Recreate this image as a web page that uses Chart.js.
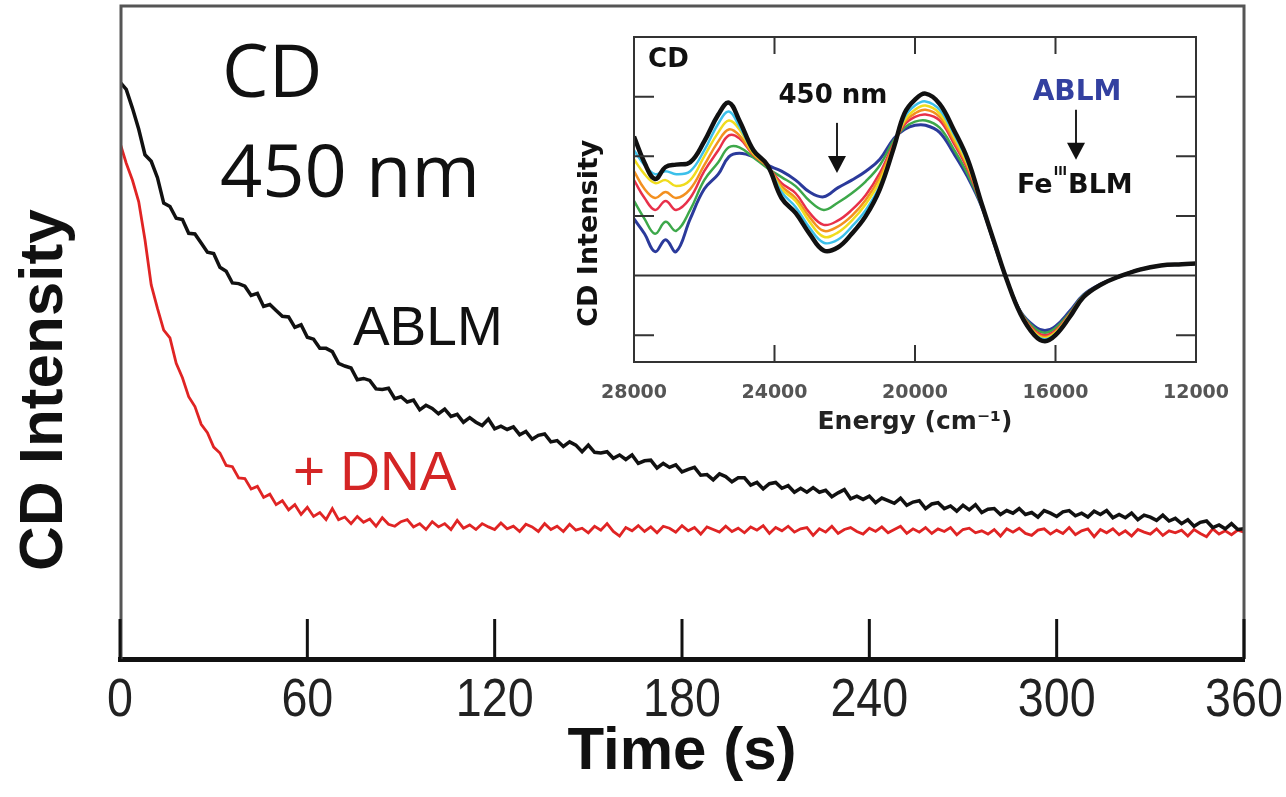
<!DOCTYPE html>
<html>
<head>
<meta charset="utf-8">
<script src="https://cdn.jsdelivr.net/npm/chart.js@4.4.0/dist/chart.umd.min.js"></script>
<style>
  html, body { margin: 0; padding: 0; background: #fff; }
  #wrap { position: relative; width: 1286px; height: 797px; }
  #mainChart { position: absolute; left: 0; top: 0; }
  #insetChart { position: absolute; left: 560px; top: 0; }
</style>
</head>
<body>
<div id="wrap">
  <canvas id="mainChart" width="1286" height="797"></canvas>
  <canvas id="insetChart" width="700" height="450"></canvas>
</div>
<script>
// ---- main kinetics trace, CD at 450 nm (arbitrary units), one reading every 2 s ----
const timeSec = [
  0,2,4,6,8,10,12,14,16,18, 20,22,24,26,28,30,32,34,36,38, 40,42,44,46,48,50,52,54,56,58,
  60,62,64,66,68,70,72,74,76,78, 80,82,84,86,88,90,92,94,96,98, 100,102,104,106,108,110,112,114,116,118,
  120,122,124,126,128,130,132,134,136,138, 140,142,144,146,148,150,152,154,156,158,
  160,162,164,166,168,170,172,174,176,178, 180,182,184,186,188,190,192,194,196,198,
  200,202,204,206,208,210,212,214,216,218, 220,222,224,226,228,230,232,234,236,238,
  240,242,244,246,248,250,252,254,256,258, 260,262,264,266,268,270,272,274,276,278,
  280,282,284,286,288,290,292,294,296,298, 300,302,304,306,308,310,312,314,316,318,
  320,322,324,326,328,330,332,334,336,338, 340,342,344,346,348,350,352,354,356,358, 360];
const ablmCD = [
  88.2,87.1,84.2,81.0,77.1,76.1,73.6,69.7,69.2,67.4, 67.2,65.1,65.0,63.6,62.2,62.0,59.9,59.3,57.5,57.4,
  57.0,55.6,55.9,53.9,54.2,53.3,52.4,52.3,50.7,51.1, 49.2,48.9,47.5,47.5,47.0,45.2,44.8,44.5,42.7,42.9,
  42.6,41.3,41.2,41.4,39.8,40.1,39.3,39.6,38.1,38.8, 38.3,37.5,38.2,37.1,37.4,36.2,36.9,36.2,35.7,36.7,
  35.2,35.6,35.1,35.5,34.3,34.8,33.6,34.2,34.4,33.2, 33.4,32.5,33.2,32.7,31.7,32.7,31.6,31.5,31.7,30.7,
  31.2,30.5,31.2,29.9,30.3,30.4,29.2,29.9,29.3,29.7, 28.6,29.0,29.3,28.1,28.2,27.4,28.3,27.9,27.1,27.7,
  27.7,26.6,27.0,26.0,26.8,27.0,26.1,26.5,25.5,26.1, 25.5,26.2,25.5,25.8,24.8,25.4,25.9,24.5,24.9,24.4,
  24.9,23.9,24.6,24.2,23.8,24.6,23.5,24.0,24.2,23.0, 23.7,23.9,23.0,23.4,22.6,23.5,22.8,23.6,22.4,22.9,
  23.0,22.1,22.7,22.3,23.0,22.1,22.4,21.7,22.7,22.3, 21.8,22.5,22.7,21.9,22.3,21.7,22.6,22.1,22.7,21.6,
  22.1,21.6,22.3,21.3,22.0,21.7,21.2,22.0,21.1,21.5, 20.7,21.3,20.3,20.9,21.1,20.1,20.5,19.9,20.7,19.8, 19.9];
const dnaCD = [
  78.9,75.8,73.2,69.9,64.1,57.2,53.6,50.3,49.1,45.2, 43.0,40.1,38.6,35.9,34.6,32.4,31.5,29.6,29.4,27.7,
  27.6,26.0,26.4,24.7,25.2,23.6,24.2,22.8,23.6,22.1, 23.2,21.8,22.4,21.3,23.0,21.3,21.7,20.7,21.8,20.9,
  21.4,20.3,21.6,20.6,20.3,21.0,21.3,20.2,20.7,19.8, 21.0,20.2,20.7,19.8,21.2,20.0,20.5,19.8,20.7,20.2,
  19.8,20.8,19.9,20.3,19.5,20.6,20.2,19.5,20.7,19.8, 20.3,19.5,20.6,19.7,20.0,19.3,20.3,19.7,20.7,19.5,
  18.8,20.1,19.6,20.4,19.5,20.2,19.3,20.3,20.0,19.4, 20.4,19.6,20.1,19.1,20.2,19.8,19.4,20.3,19.5,20.0,
  19.3,20.2,19.7,20.4,19.2,20.1,19.6,20.3,19.4,19.9, 20.1,18.9,19.9,19.4,20.3,19.2,19.8,20.1,19.5,19.1,
  20.0,19.5,20.2,19.3,19.8,20.3,19.2,19.9,19.4,20.1, 19.2,19.9,19.5,20.1,19.0,19.8,20.0,19.3,19.6,19.1,
  19.8,18.8,19.9,19.4,20.0,19.2,18.9,19.7,19.9,19.1, 19.7,19.2,20.1,19.0,19.6,19.9,18.7,19.8,19.3,19.9,
  19.0,19.6,18.8,19.8,19.4,19.1,19.9,18.9,19.6,19.3, 19.7,18.8,19.8,19.2,18.7,19.9,19.1,19.6,19.0,19.7, 19.4];

// ---- inset spectra, ABLM -> Fe(III)BLM ----
const energyCm = [28000,27700,27400,27100,26800,26400,26000,25600,25300,25000,24600,24200,23800,23400,23000,22600,
  22200,21800,21400,21000,20600,20300,20000,19700,19300,18900,18500,18100,17700,17400,17000,16600,16300,16000,
  15600,15200,14700,14200,13600,13000,12400,12000];
const specFeBLM = [2.33,1.89,1.62,1.82,1.86,1.9,2.25,2.7,2.9,2.6,2.1,1.85,1.3,1.05,0.7,0.42,0.47,0.7,1.0,1.45,2.15,2.72,
  2.95,3.05,2.88,2.45,1.95,1.2,0.48,-0.05,-0.64,-1.0,-1.1,-1.0,-0.7,-0.36,-0.15,-0.02,0.1,0.17,0.19,0.2];
const specCyan = [2.1,1.85,1.7,1.75,1.7,1.75,2.1,2.55,2.75,2.5,2.08,1.85,1.4,1.15,0.8,0.55,0.6,0.82,1.1,1.5,2.15,2.65,
  2.85,2.92,2.78,2.38,1.9,1.2,0.47,-0.05,-0.63,-0.98,-1.07,-0.98,-0.68,-0.35,-0.15,-0.02,0.1,0.17,0.19,0.2];
const specYellow = [1.95,1.7,1.55,1.6,1.5,1.6,2.0,2.4,2.6,2.45,2.05,1.84,1.45,1.25,0.9,0.65,0.72,0.92,1.2,1.58,2.17,2.6,
  2.78,2.85,2.72,2.33,1.86,1.19,0.47,-0.05,-0.62,-0.96,-1.05,-0.96,-0.67,-0.35,-0.15,-0.02,0.1,0.17,0.19,0.2];
const specOrange = [1.75,1.45,1.3,1.4,1.3,1.45,1.85,2.25,2.45,2.35,2.03,1.83,1.5,1.3,0.98,0.75,0.82,1.0,1.27,1.65,2.2,2.57,
  2.72,2.78,2.66,2.27,1.82,1.18,0.46,-0.05,-0.62,-0.94,-1.03,-0.94,-0.66,-0.34,-0.15,-0.02,0.1,0.17,0.19,0.2];
const specRed = [1.6,1.3,1.1,1.25,1.1,1.3,1.75,2.1,2.35,2.3,2.02,1.83,1.55,1.38,1.05,0.85,0.92,1.1,1.35,1.72,2.22,2.53,
  2.66,2.7,2.6,2.22,1.78,1.17,0.46,-0.05,-0.61,-0.92,-1.0,-0.92,-0.65,-0.34,-0.15,-0.02,0.1,0.17,0.19,0.2];
const specGreen = [1.25,0.95,0.7,0.9,0.75,1.1,1.6,1.9,2.15,2.15,1.98,1.8,1.65,1.5,1.25,1.1,1.22,1.38,1.58,1.85,2.27,2.48,
  2.58,2.6,2.48,2.12,1.7,1.16,0.45,-0.05,-0.6,-0.88,-0.96,-0.88,-0.63,-0.33,-0.15,-0.02,0.1,0.17,0.19,0.2];
const specABLM = [0.95,0.7,0.4,0.6,0.4,0.95,1.45,1.7,1.99,2.05,1.99,1.85,1.75,1.6,1.4,1.32,1.47,1.6,1.75,1.95,2.3,2.45,
  2.52,2.52,2.4,2.05,1.65,1.15,0.45,-0.05,-0.6,-0.85,-0.92,-0.85,-0.6,-0.32,-0.14,-0.02,0.1,0.17,0.19,0.2];

function pts(xs, ys) {
  return xs.map((x, i) => ({ x: x, y: ys[i] }));
}

// text placed in data coordinates
const mainNotes = [
  { text: "CD", x: 32.7, y: 85.9, font: '74px "Open Sans"', color: "#111" },
  { text: "450 nm", x: 32.0, y: 70.6, font: '74px "Open Sans"', color: "#111" },
  { text: "ABLM", x: 74.6, y: 48.0, font: '55px "Liberation Sans"', color: "#111" },
  { text: "+ DNA", x: 55.4, y: 25.8, font: '55px "Liberation Sans"', color: "#d42525" },
];

const mainDecor = {
  id: "mainDecor",
  afterDraw(chart) {
    const { ctx, chartArea: a } = chart;
    const x = chart.scales.x, y = chart.scales.y;
    ctx.save();
    // left / top / right frame
    ctx.strokeStyle = "#555";
    ctx.lineWidth = 3;
    ctx.beginPath();
    ctx.moveTo(a.left + 1, a.bottom);
    ctx.lineTo(a.left + 1, a.top + 1);
    ctx.lineTo(a.right, a.top + 1);
    ctx.lineTo(a.right, a.bottom);
    ctx.stroke();
    // ticks pointing up into the plot, and narrow tick labels below
    ctx.strokeStyle = "#111";
    ctx.lineWidth = 3;
    ctx.fillStyle = "#222";
    ctx.font = '53px "Liberation Sans"';
    ctx.textAlign = "center";
    ctx.textBaseline = "middle";
    x.ticks.forEach((tk) => {
      const px = x.getPixelForValue(tk.value);
      ctx.beginPath();
      ctx.moveTo(px, a.bottom);
      ctx.lineTo(px, a.bottom - 40);
      ctx.stroke();
      ctx.save();
      ctx.translate(px, a.bottom + 42);
      ctx.scale(0.88, 1);
      ctx.fillText(String(tk.value), 0, 0);
      ctx.restore();
    });
    // notes
    ctx.textAlign = "left";
    ctx.textBaseline = "alphabetic";
    mainNotes.forEach((n) => {
      ctx.font = n.font;
      ctx.fillStyle = n.color;
      ctx.fillText(n.text, x.getPixelForValue(n.x), y.getPixelForValue(n.y));
    });
    // y axis label
    ctx.translate(a.left - 75, y.getPixelForValue(41.1));
    ctx.rotate(-Math.PI / 2);
    ctx.font = 'bold 62px "Liberation Sans"';
    ctx.fillStyle = "#111";
    ctx.textAlign = "center";
    ctx.textBaseline = "middle";
    ctx.fillText("CD Intensity", 0, 0);
    ctx.restore();
  },
};

new Chart(document.getElementById("mainChart").getContext("2d"), {
  type: "line",
  data: {
    datasets: [
      { label: "ABLM", data: pts(timeSec, ablmCD), borderColor: "#111", borderWidth: 3.5 },
      { label: "+ DNA", data: pts(timeSec, dnaCD), borderColor: "#e02424", borderWidth: 2.8 },
    ],
  },
  options: {
    responsive: false,
    devicePixelRatio: 1,
    animation: false,
    layout: { padding: { top: 5, right: 42, left: 0, bottom: 0 } },
    elements: { point: { radius: 0 }, line: { tension: 0 } },
    plugins: { legend: { display: false }, tooltip: { enabled: false } },
    scales: {
      x: {
        type: "linear",
        min: 0,
        max: 360,
        afterFit: (s) => { s.height = 138; },
        border: { display: true, color: "#111", width: 5 },
        grid: { display: false, drawTicks: false },
        ticks: { display: false, stepSize: 60 },
        title: {
          display: true,
          text: "Time (s)",
          color: "#111",
          font: { family: '"Liberation Sans", Arial', size: 60, weight: "bold" },
          padding: { top: 9, bottom: 9 },
        },
      },
      y: {
        min: 0,
        max: 100,
        afterFit: (s) => { s.width = 120; },
        border: { display: false },
        grid: { display: false, drawTicks: false },
        ticks: { display: false },
      },
    },
  },
  plugins: [mainDecor],
});

// ---- inset ----
const insetNotes = [
  { text: "CD", x: 27600, y: 3.5, align: "left", color: "#111", size: 26 },
  { text: "450 nm", x: 22335, y: 2.9, align: "center", color: "#111", size: 26 },
  { text: "ABLM", x: 15388, y: 2.95, align: "center", color: "#3340a0", size: 28 },
];
const insetArrows = [
  { x: 22221, from: 2.56, to: 1.72 },
  { x: 15416, from: 2.78, to: 1.94 },
];

const insetDecor = {
  id: "insetDecor",
  beforeDatasetsDraw(chart) {
    const { ctx, chartArea: a } = chart;
    const y0 = chart.scales.y.getPixelForValue(0);
    ctx.save();
    ctx.strokeStyle = "#333";
    ctx.lineWidth = 2;
    ctx.beginPath();
    ctx.moveTo(a.left, y0);
    ctx.lineTo(a.right, y0);
    ctx.stroke();
    ctx.restore();
  },
  afterDraw(chart) {
    const { ctx, chartArea: a } = chart;
    const x = chart.scales.x, y = chart.scales.y;
    ctx.save();
    ctx.strokeStyle = "#333";
    ctx.lineWidth = 2;
    ctx.strokeRect(a.left, a.top, a.right - a.left, a.bottom - a.top);
    x.ticks.forEach((tk) => {
      const px = x.getPixelForValue(tk.value);
      ctx.beginPath();
      ctx.moveTo(px, a.bottom);
      ctx.lineTo(px, a.bottom - 17);
      ctx.moveTo(px, a.top);
      ctx.lineTo(px, a.top + 17);
      ctx.stroke();
    });
    y.ticks
      .filter((tk) => Number.isInteger(tk.value) && tk.value !== 0 && tk.value < y.max)
      .forEach((tk) => {
        const py = y.getPixelForValue(tk.value);
        ctx.beginPath();
        ctx.moveTo(a.left, py);
        ctx.lineTo(a.left + 20, py);
        ctx.moveTo(a.right, py);
        ctx.lineTo(a.right - 20, py);
        ctx.stroke();
      });

    // arrows
    ctx.fillStyle = "#111";
    ctx.strokeStyle = "#222";
    insetArrows.forEach((ar) => {
      const px = x.getPixelForValue(ar.x);
      const p1 = y.getPixelForValue(ar.from);
      const p2 = y.getPixelForValue(ar.to);
      ctx.lineWidth = 2;
      ctx.beginPath();
      ctx.moveTo(px, p1);
      ctx.lineTo(px, p2 - 14);
      ctx.stroke();
      ctx.beginPath();
      ctx.moveTo(px - 9, p2 - 17);
      ctx.lineTo(px + 9, p2 - 17);
      ctx.lineTo(px, p2);
      ctx.closePath();
      ctx.fill();
    });

    ctx.textBaseline = "alphabetic";
    insetNotes.forEach((n) => {
      ctx.font = "bold " + n.size + 'px "DejaVu Sans"';
      ctx.textAlign = n.align;
      ctx.fillStyle = n.color;
      ctx.fillText(n.text, x.getPixelForValue(n.x), y.getPixelForValue(n.y));
    });

    // Fe(III)BLM with superscript
    ctx.textAlign = "left";
    ctx.fillStyle = "#111";
    let fx = x.getPixelForValue(17096);
    const fy = y.getPixelForValue(1.39);
    ctx.font = 'bold 27px "DejaVu Sans"';
    ctx.fillText("Fe", fx, fy);
    fx += ctx.measureText("Fe").width + 1;
    ctx.font = 'bold 12px "DejaVu Sans"';
    ctx.fillText("III", fx, fy - 18);
    fx += ctx.measureText("III").width + 1;
    ctx.font = 'bold 27px "DejaVu Sans"';
    ctx.fillText("BLM", fx, fy);

    // y label
    ctx.translate(a.left - 44, y.getPixelForValue(0.71));
    ctx.rotate(-Math.PI / 2);
    ctx.font = 'bold 27px "DejaVu Sans"';
    ctx.textAlign = "center";
    ctx.textBaseline = "middle";
    ctx.fillText("CD Intensity", 0, 0);
    ctx.restore();
  },
};

function spec(label, ys, color, width) {
  return { label: label, data: pts(energyCm, ys), borderColor: color, borderWidth: width };
}

new Chart(document.getElementById("insetChart").getContext("2d"), {
  type: "line",
  data: {
    datasets: [
      spec("FeIIIBLM", specFeBLM, "#111", 4.5),
      spec("t6", specCyan, "#3cc0ea", 2.5),
      spec("t5", specYellow, "#f0dc1e", 2.5),
      spec("t4", specOrange, "#f39020", 2.5),
      spec("t3", specRed, "#e8304a", 2.5),
      spec("t2", specGreen, "#3da84a", 2.5),
      spec("ABLM", specABLM, "#2b3a9b", 3),
    ],
  },
  options: {
    responsive: false,
    devicePixelRatio: 1,
    animation: false,
    layout: { padding: { top: 37, right: 64, left: 0, bottom: 0 } },
    elements: { point: { radius: 0 }, line: { tension: 0.4 } },
    plugins: { legend: { display: false }, tooltip: { enabled: false } },
    scales: {
      x: {
        type: "linear",
        reverse: true,
        min: 12000,
        max: 28000,
        afterFit: (s) => { s.height = 88; },
        border: { display: false },
        grid: { display: false, drawTicks: false },
        ticks: {
          stepSize: 4000,
          padding: 20,
          color: "#555",
          font: { family: '"DejaVu Sans"', size: 19, weight: "bold" },
          callback: (v) => String(v),
        },
        title: {
          display: true,
          text: "Energy (cm\u207B\u00B9)",
          color: "#222",
          font: { family: '"DejaVu Sans"', size: 25, weight: "bold" },
          padding: { top: 13, bottom: 13 },
        },
      },
      y: {
        min: -1.45,
        max: 4,
        afterFit: (s) => { s.width = 74; },
        border: { display: false },
        grid: { display: false, drawTicks: false },
        ticks: { display: false, stepSize: 1 },
      },
    },
  },
  plugins: [insetDecor],
});
</script>
</body>
</html>
